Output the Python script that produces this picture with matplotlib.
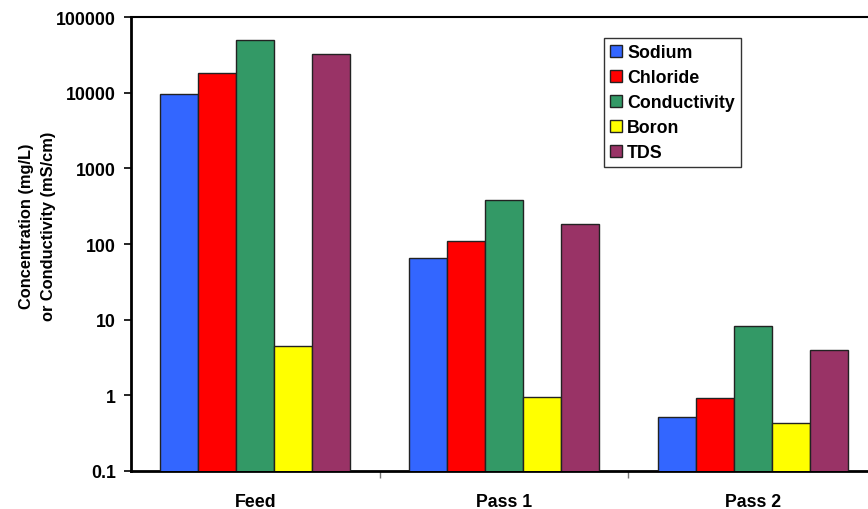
import matplotlib
matplotlib.use("Agg")
import matplotlib.pyplot as plt
import numpy as np

categories = ["Feed", "Pass 1", "Pass 2"]
series = ["Sodium", "Chloride", "Conductivity", "Boron", "TDS"]
sodium = [9600, 65, 0.52]
chloride = [18000, 110, 0.93]
conductivity = [50000, 383, 8.35]
boron = [4.5, 0.95, 0.43]
tds = [32500, 184, 4.0]
colors = ["#3366FF", "#FF0000", "#339966", "#FFFF00", "#993366"]
yticks = [0.1, 1, 10, 100, 1000, 10000, 100000]
ytick_labels = ["0.1", "1", "10", "100", "1000", "10000", "100000"]

plt.rcParams['font.family'] = ['Liberation Sans', 'DejaVu Sans']
fig = plt.figure(figsize=(8.68, 5.10), dpi=100)
ax = fig.add_axes([131/868, 38/510, (877-131)/868, (472-18)/510])

data = [sodium, chloride, conductivity, boron, tds]
x = np.arange(len(categories))
w = 0.153
for i, (name, vals, c) in enumerate(zip(series, data, colors)):
    ax.bar(x + (i - 2) * w, vals, width=w, color=c, edgecolor="#222222",
           linewidth=1.0, label=name, zorder=3)

ax.set_yscale("log")
ax.set_ylim(0.1, 100000)
ax.set_xlim(-0.5, 2.5)
ax.set_yticks(yticks)
ax.set_yticklabels(ytick_labels, fontsize=12.8, fontweight="bold")
ax.yaxis.set_minor_locator(matplotlib.ticker.NullLocator())
ax.set_xticks(x)
ax.set_xticklabels(categories, fontsize=12.8, fontweight="bold")
ax.tick_params(axis="x", which="major", length=0, pad=16)
ax.set_xticks([0.5, 1.5], minor=True)
ax.tick_params(axis="x", which="minor", length=5, width=1, color="#777777")
ax.tick_params(axis="y", which="major", length=5, width=1.2, pad=6)

for s in ["left", "bottom"]:
    ax.spines[s].set_linewidth(2)
ax.spines["top"].set_linewidth(1.5)
ax.spines["right"].set_visible(False)

ax.set_ylabel("Concentration (mg/L)\nor Conductivity (mS/cm)", fontsize=11.8,
              fontweight="bold", linespacing=1.6)
ax.yaxis.set_label_coords((56 - 131) / 746, (472 - 226) / 454)

leg = ax.legend(loc="upper left", bbox_to_anchor=((604-131)/746, (472-39)/454),
                frameon=True, fancybox=False, edgecolor="black",
                prop={"weight": "bold", "size": 12.8}, handlelength=0.65,
                handleheight=0.65, handletextpad=0.3, labelspacing=0.45,
                borderpad=0.35, borderaxespad=0)
leg.get_frame().set_linewidth(1.0)

fig.savefig("out.png", dpi=100)
